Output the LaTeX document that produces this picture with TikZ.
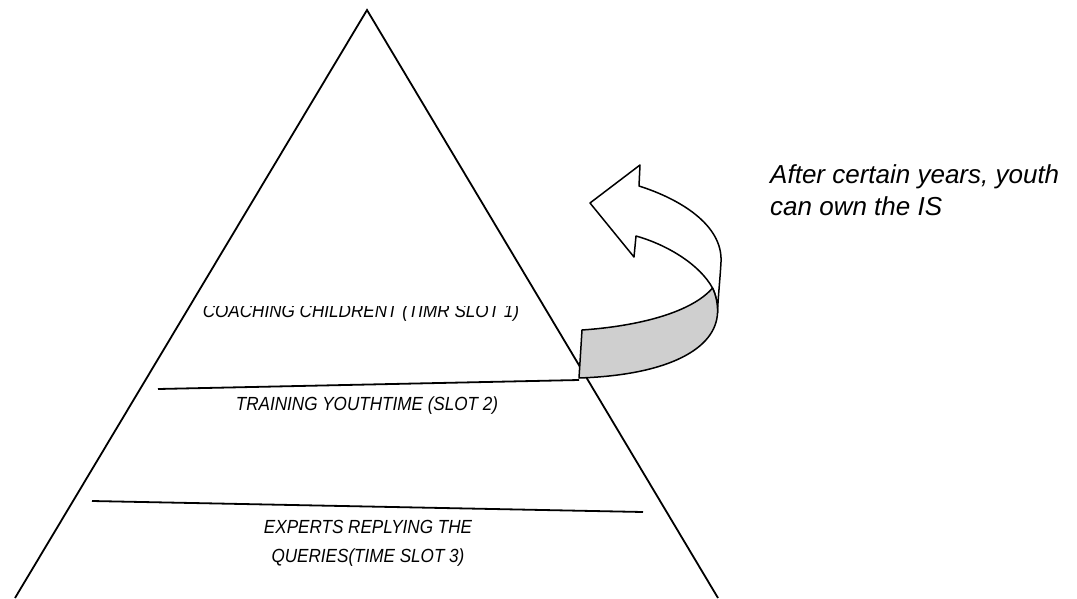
\documentclass[tikz,border=0pt]{standalone}
\usepackage{fontspec}
\setmainfont{Liberation Sans}
\begin{document}
\begin{tikzpicture}[x=1pt,y=-1pt,
  edge/.style={line width=1.8pt,black},
  band/.style={line width=1.5pt,black,line join=round},
  lbl/.style={inner sep=0pt,anchor=base,xscale=0.9,font=\fontsize{19}{22}\selectfont\itshape},
  note/.style={inner sep=0pt,anchor=base west,align=left,font=\fontsize{26}{31.7}\selectfont\itshape}]
\useasboundingbox (0,0) rectangle (1077,598);
% pyramid
\coordinate (apex) at (367,10);
\coordinate (bl) at (15,598);
\coordinate (br) at (718,598);
\draw[edge] (bl) -- (apex) -- (br);
\coordinate (l1a) at (158,389);
\coordinate (l1b) at (579,380);
\coordinate (l2a) at (92,501);
\coordinate (l2b) at (643,512);
\draw[edge] (l1a) -- (l1b);
\draw[edge] (l2a) -- (l2b);
% labels
\begin{scope}
  \clip (150,306) rectangle (560,330);
  \node[lbl] (t1) at (361,317) {COACHING CHILDRENT (TIMR SLOT 1)};
\end{scope}
\node[lbl] (t2) at (367,410.7) {TRAINING YOUTHTIME (SLOT 2)};
\node[lbl] (t3) at (368,533) {EXPERTS REPLYING THE};
\node[lbl] (t4) at (368,562.7) {QUERIES(TIME SLOT 3)};
\node[note] (t5) at (770,215) {After certain years, youth\\can own the IS};
% curved arrow (back ribbon + head)
\draw[band,fill=white] (636,236) -- (634,257) -- (590,203) -- (640,165) -- (639,186)
  .. controls (680,199) and (723,225) .. (721,262)
  .. controls (720,280) and (718,298) .. (717.5,313)
  .. controls (718,305) and (716,295) .. (712.5,288)
  .. controls (700,265) and (668,245) .. (636,236) -- cycle;
% front band (grey)
\draw[band,fill={rgb,255:red,207;green,207;blue,207}] (582,330)
  .. controls (640,326) and (692,312) .. (712.5,288)
  .. controls (716,295) and (718,305) .. (717.5,313)
  .. controls (716,348) and (670,375) .. (579,378) -- cycle;
\end{tikzpicture}
\end{document}
